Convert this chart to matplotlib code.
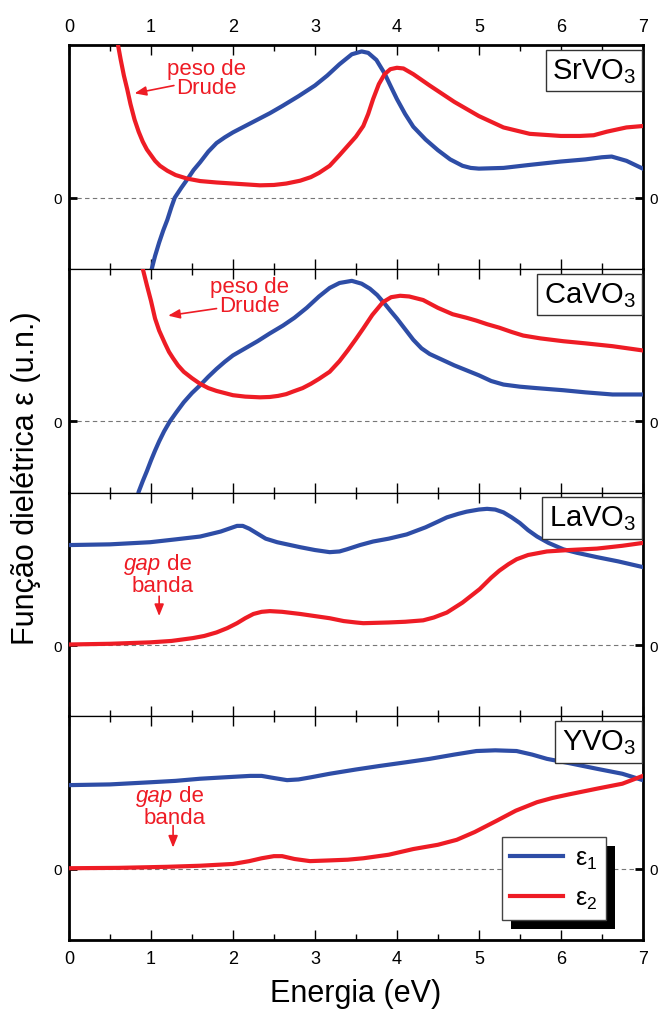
import numpy as np
import matplotlib
matplotlib.use('Agg')
import matplotlib.pyplot as plt
from matplotlib.patches import Rectangle

plt.rcParams['font.family'] = ['Liberation Sans', 'DejaVu Sans']
plt.rcParams['mathtext.fontset'] = 'custom'
plt.rcParams['mathtext.rm'] = 'Liberation Sans'
plt.rcParams['mathtext.it'] = 'Liberation Sans:italic'

BLUE = '#2E4DA6'
RED = '#EE1C25'

# panel names, top to bottom
compounds = ['SrVO$_3$', 'CaVO$_3$', 'LaVO$_3$', 'YVO$_3$']

# eps1 / eps2 in normalized units (zero line at 0)
sr_e1_E = [0.98, 1.01, 1.05, 1.1, 1.15, 1.2, 1.25, 1.29, 1.37, 1.45, 1.52, 1.6, 1.7, 1.8, 1.9, 2.0, 2.15, 2.3, 2.45,
           2.6, 2.8, 3.0, 3.15, 3.3, 3.45, 3.57, 3.65, 3.75, 3.85, 3.92, 4.0, 4.1, 4.2, 4.35, 4.5, 4.65, 4.8, 4.9,
           5.0, 5.3, 5.6, 6.0, 6.3, 6.5, 6.62, 6.8, 7.0]
sr_e1 = [-1.1, -1.0, -0.82, -0.63, -0.46, -0.31, -0.13, 0.0, 0.14, 0.27, 0.39, 0.5, 0.65, 0.77, 0.85, 0.92, 1.01, 1.1,
         1.19, 1.29, 1.43, 1.58, 1.72, 1.88, 2.02, 2.06, 2.04, 1.94, 1.75, 1.58, 1.39, 1.18, 1.0, 0.82, 0.67, 0.54,
         0.45, 0.42, 0.41, 0.42, 0.46, 0.51, 0.54, 0.57, 0.58, 0.52, 0.41]
sr_e2_E = [0.55, 0.6, 0.63, 0.67, 0.71, 0.75, 0.8, 0.85, 0.9, 0.95, 1.0, 1.05, 1.11, 1.2, 1.3, 1.44, 1.6, 1.8, 2.0,
           2.2, 2.33, 2.5, 2.65, 2.82, 2.95, 3.05, 3.18, 3.3, 3.4, 3.5, 3.59, 3.65, 3.71, 3.78, 3.85, 3.92, 4.0,
           4.08, 4.2, 4.4, 4.7, 5.0, 5.3, 5.62, 6.0, 6.23, 6.4, 6.56, 6.8, 7.0]
sr_e2 = [2.6, 2.14, 1.95, 1.72, 1.53, 1.32, 1.1, 0.93, 0.79, 0.68, 0.6, 0.52, 0.45, 0.38, 0.32, 0.27, 0.235, 0.215,
         0.2, 0.185, 0.175, 0.18, 0.2, 0.24, 0.29, 0.35, 0.45, 0.6, 0.73, 0.86, 1.01, 1.18, 1.39, 1.6, 1.74, 1.81,
         1.83, 1.82, 1.74, 1.58, 1.35, 1.15, 0.99, 0.9, 0.87, 0.87, 0.88, 0.93, 0.99, 1.01]

ca_e1_E = [0.83, 0.85, 0.9, 0.95, 1.0, 1.05, 1.1, 1.16, 1.23, 1.31, 1.4, 1.5, 1.6, 1.7, 1.8, 1.9, 2.0, 2.15, 2.3,
           2.45, 2.61, 2.75, 2.9, 3.05, 3.18, 3.3, 3.45, 3.57, 3.67, 3.76, 3.85, 3.92, 4.0, 4.1, 4.2, 4.3, 4.4,
           4.55, 4.7, 4.85, 5.0, 5.15, 5.3, 5.5, 5.7, 6.03, 6.3, 6.63, 7.0]
ca_e1 = [-1.1, -0.99, -0.84, -0.7, -0.55, -0.41, -0.28, -0.14, 0.0, 0.13, 0.27, 0.4, 0.51, 0.63, 0.74, 0.84, 0.93,
         1.03, 1.13, 1.24, 1.35, 1.46, 1.6, 1.76, 1.88, 1.95, 1.98, 1.94, 1.87, 1.78, 1.66, 1.56, 1.45, 1.3, 1.15,
         1.03, 0.95, 0.87, 0.79, 0.72, 0.65, 0.57, 0.52, 0.49, 0.47, 0.44, 0.41, 0.38, 0.38]
ca_e2_E = [0.85, 0.88, 0.9, 0.95, 1.0, 1.05, 1.1, 1.17, 1.22, 1.27, 1.33, 1.4, 1.5, 1.6, 1.7, 1.8, 1.9, 2.0, 2.15,
           2.33, 2.45, 2.55, 2.65, 2.73, 2.85, 2.95, 3.05, 3.18, 3.3, 3.4, 3.5, 3.59, 3.7, 3.83, 3.93, 4.04, 4.15,
           4.32, 4.5, 4.68, 4.85, 4.97, 5.1, 5.25, 5.4, 5.54, 5.75, 6.03, 6.3, 6.63, 7.0]
ca_e2 = [2.5, 2.3, 2.15, 1.92, 1.7, 1.45, 1.28, 1.1, 0.98, 0.89, 0.79, 0.7, 0.61, 0.53, 0.47, 0.43, 0.4, 0.37, 0.35,
         0.34, 0.345, 0.36, 0.385, 0.42, 0.47, 0.53, 0.6, 0.7, 0.85, 1.0, 1.16, 1.31, 1.5, 1.68, 1.75, 1.77, 1.76,
         1.71, 1.6, 1.51, 1.46, 1.42, 1.37, 1.32, 1.26, 1.21, 1.17, 1.13, 1.1, 1.06, 1.0]

la_e1_E = [0.0, 0.5, 0.99, 1.3, 1.6, 1.85, 1.95, 2.05, 2.12, 2.2, 2.3, 2.4, 2.54, 2.7, 2.82, 3.0, 3.18, 3.3, 3.39,
           3.55, 3.71, 3.9, 4.12, 4.35, 4.5, 4.61, 4.75, 4.85, 5.0, 5.1, 5.2, 5.3, 5.4, 5.5, 5.6, 5.71, 5.85, 6.03,
           6.2, 6.44, 6.7, 7.0]
la_e1 = [1.41, 1.42, 1.45, 1.49, 1.53, 1.6, 1.64, 1.68, 1.68, 1.64, 1.57, 1.5, 1.45, 1.41, 1.38, 1.34, 1.31, 1.32,
         1.35, 1.41, 1.46, 1.5, 1.56, 1.66, 1.74, 1.8, 1.85, 1.88, 1.91, 1.92, 1.91, 1.87, 1.8, 1.72, 1.62, 1.53,
         1.44, 1.35, 1.3, 1.24, 1.18, 1.1]
la_e2_E = [0.0, 0.5, 0.99, 1.25, 1.51, 1.65, 1.8, 1.93, 2.05, 2.15, 2.25, 2.35, 2.45, 2.6, 2.82, 3.0, 3.18, 3.35,
           3.5, 3.59, 3.9, 4.1, 4.32, 4.45, 4.61, 4.8, 5.01, 5.15, 5.25, 5.36, 5.46, 5.6, 5.83, 6.1, 6.44, 6.75, 7.0]
la_e2 = [0.01, 0.02, 0.04, 0.06, 0.1, 0.13, 0.18, 0.24, 0.31, 0.38, 0.44, 0.47, 0.48, 0.47, 0.44, 0.41, 0.38, 0.34,
         0.32, 0.31, 0.32, 0.33, 0.35, 0.39, 0.46, 0.6, 0.79, 0.95, 1.05, 1.14, 1.21, 1.27, 1.32, 1.34, 1.36, 1.4,
         1.44]

y_e1_E = [0.0, 0.5, 0.99, 1.3, 1.6, 1.9, 2.21, 2.35, 2.5, 2.66, 2.8, 2.95, 3.18, 3.5, 3.79, 4.1, 4.4, 4.7, 4.97,
          5.2, 5.46, 5.65, 5.83, 6.1, 6.44, 6.75, 7.0]
y_e1 = [1.18, 1.19, 1.22, 1.24, 1.27, 1.29, 1.31, 1.31, 1.28, 1.25, 1.26, 1.29, 1.34, 1.4, 1.45, 1.5, 1.55, 1.61,
        1.66, 1.67, 1.66, 1.61, 1.55, 1.49, 1.41, 1.34, 1.25]
y_e2_E = [0.0, 0.6, 1.2, 1.6, 2.0, 2.2, 2.35, 2.5, 2.6, 2.75, 2.94, 3.18, 3.4, 3.59, 3.9, 4.2, 4.5, 4.73, 4.95,
          5.22, 5.45, 5.71, 5.9, 6.1, 6.44, 6.75, 7.0]
y_e2 = [0.01, 0.015, 0.03, 0.045, 0.07, 0.11, 0.15, 0.18, 0.18, 0.14, 0.11, 0.12, 0.13, 0.15, 0.2, 0.28, 0.34,
        0.41, 0.52, 0.68, 0.82, 0.94, 1.0, 1.05, 1.13, 1.2, 1.31]

panels = [
    (sr_e1_E, sr_e1, sr_e2_E, sr_e2),
    (ca_e1_E, ca_e1, ca_e2_E, ca_e2),
    (la_e1_E, la_e1, la_e2_E, la_e2),
    (y_e1_E, y_e1, y_e2_E, y_e2),
]

# annotation text, text position, arrow tail, arrow head
notes = [
    ('peso de\nDrude', (1.68, 1.69), (1.28, 1.58), (0.8, 1.47)),
    ('peso de\nDrude', (2.2, 1.77), (1.8, 1.59), (1.21, 1.49)),
    ('gap', (1.14, 1.0), (1.1, 0.69), (1.1, 0.41)),
    ('gap', (1.29, 0.89), (1.27, 0.61), (1.27, 0.3)),
]

fig = plt.figure(figsize=(6.6, 10.12), dpi=100)
gs = fig.add_gridspec(4, 1, left=0.1045, right=0.974, top=0.9545, bottom=0.0702, hspace=0)
axes = [fig.add_subplot(gs[i]) for i in range(4)]

for i, ax in enumerate(axes):
    e1x, e1, e2x, e2 = panels[i]
    ax.axhline(0, color='#777777', lw=0.8, ls=(0, (4, 3)), zorder=1)
    l1, = ax.plot(e1x, e1, color=BLUE, lw=3, label='ε$_1$', zorder=3, solid_joinstyle='round')
    l2, = ax.plot(e2x, e2, color=RED, lw=3, label='ε$_2$', zorder=3, solid_joinstyle='round')
    ax.set_xlim(0, 7)
    ax.set_ylim(-1, 2.15)
    ax.set_yticks([0])
    ax.set_yticklabels(['0'])
    ax.set_xticks(np.arange(0, 8, 1))
    ax.set_xticks(np.arange(0.5, 7, 1), minor=True)
    ax.tick_params(axis='x', which='both', direction='in', top=True, bottom=True,
                   labelbottom=(i == 3), labeltop=(i == 0), labelsize=13, pad=7)
    ax.tick_params(axis='x', which='major', length=7, width=1)
    ax.tick_params(axis='x', which='minor', length=4, width=1)
    ax.tick_params(axis='y', which='major', direction='in', left=True, right=True,
                   labelleft=True, labelright=True, labelsize=11, length=6, width=2, pad=5)
    for side in ['left', 'right']:
        ax.spines[side].set_linewidth(2)
    ax.spines['top'].set_linewidth(2 if i == 0 else 0.9)
    ax.spines['bottom'].set_linewidth(2 if i == 3 else 0.9)

    ax.text(0.988, 0.95, compounds[i], transform=ax.transAxes, ha='right', va='top',
            fontsize=21, zorder=6,
            bbox=dict(boxstyle='square,pad=0.22', fc='white', ec='#333333', lw=1))

    txt, txy, a0, a1 = notes[i]
    if txt == 'gap':
        ax.text(txy[0] - 0.02, txy[1] + 0.15, 'gap', style='italic', color=RED,
                fontsize=16, ha='right', va='center', zorder=5)
        ax.text(txy[0] - 0.02, txy[1] + 0.15, ' de', color=RED,
                fontsize=16, ha='left', va='center', zorder=5)
        ax.text(txy[0], txy[1] - 0.16, 'banda', color=RED,
                fontsize=16, ha='center', va='center', zorder=5)
    else:
        ax.text(txy[0], txy[1], txt, color=RED, fontsize=16, ha='center', va='center',
                linespacing=0.85, zorder=5)
    ax.annotate('', xy=a1, xytext=a0,
                arrowprops=dict(arrowstyle='-|>,head_length=0.7,head_width=0.28',
                                color=RED, lw=1.2, shrinkA=0, shrinkB=0), zorder=5)

axes[3].set_xlabel('Energia (eV)', fontsize=22, labelpad=8)
fig.text(0.04, 0.527, 'Função dielétrica ε (u.n.)', rotation=90, fontsize=22,
         ha='center', va='center')

leg = axes[3].legend(handles=[l1, l2], loc='lower left', bbox_to_anchor=(0.754, 0.089),
                     fontsize=18, frameon=True, fancybox=False, framealpha=1,
                     handlelength=2.1, handletextpad=0.5, labelspacing=0.6,
                     borderpad=0.35, borderaxespad=0)
leg.get_frame().set_edgecolor('#444444')
leg.get_frame().set_linewidth(1)
leg.set_zorder(8)

# solid drop shadow behind the legend box
fig.canvas.draw()
bb = leg.get_window_extent()
inv = axes[3].transAxes.inverted()
(x0, y0) = inv.transform((bb.x0 + 9, bb.y0 - 9))
(x1, y1) = inv.transform((bb.x1 + 9, bb.y1 - 9))
axes[3].add_patch(Rectangle((x0, y0), x1 - x0, y1 - y0, transform=axes[3].transAxes,
                            fc='black', ec='none', zorder=7, clip_on=False))

plt.savefig('out.png', dpi=100)
